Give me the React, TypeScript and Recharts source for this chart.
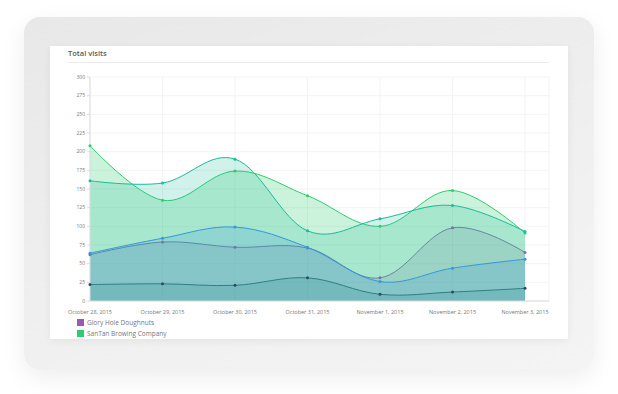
import React from 'react';
import { Area, AreaChart, CartesianGrid, Legend, XAxis, YAxis } from 'recharts';

const dates = ['October 28, 2015', 'October 29, 2015', 'October 30, 2015', 'October 31, 2015', 'November 1, 2015', 'November 2, 2015', 'November 3, 2015'];
const gloryHole = [62, 79, 72, 71, 31, 98, 65];
const navySeries = [22, 23, 21, 31, 9, 12, 17];
const sanTan = [208, 135, 174, 141, 100, 148, 91];
const tealSeries = [161, 158, 190, 94, 110, 128, 93];
const blueSeries = [64, 84, 99, 72, 26, 44, 56];
const yTicks = [0, 25, 50, 75, 100, 125, 150, 175, 200, 225, 250, 275, 300];

const data = dates.map((date, i) => ({
    date,
    glory: gloryHole[i],
    navy: navySeries[i],
    santan: sanTan[i],
    teal: tealSeries[i],
    blue: blueSeries[i],
}));

// cardinal-ish spline like chart.js tension 0.4
function splineCurve(context: any) {
    const k = 0.18;
    let x0: number, x1: number, x2: number, y0: number, y1: number, y2: number;
    let pt = 0;
    let line = NaN;
    const seg = (x: number, y: number) => {
        context.bezierCurveTo(x1 + k * (x2 - x0), y1 + k * (y2 - y0), x2 + k * (x1 - x), y2 + k * (y1 - y), x2, y2);
    };
    return {
        areaStart() {
            line = 0;
        },
        areaEnd() {
            line = NaN;
        },
        lineStart() {
            x0 = x1 = x2 = y0 = y1 = y2 = NaN;
            pt = 0;
        },
        lineEnd() {
            if (pt === 2) context.lineTo(x2, y2);
            else if (pt === 3) seg(x1, y1);
            if (line || (line !== 0 && pt === 1)) context.closePath();
            line = 1 - line;
        },
        point(x: number, y: number) {
            x = +x;
            y = +y;
            switch (pt) {
                case 0:
                    pt = 1;
                    line ? context.lineTo(x, y) : context.moveTo(x, y);
                    break;
                case 1:
                    pt = 2;
                    x1 = x;
                    y1 = y;
                    break;
                case 2:
                    pt = 3;
                    seg(x, y);
                    break;
                default:
                    seg(x, y);
                    break;
            }
            x0 = x1;
            x1 = x2;
            x2 = x;
            y0 = y1;
            y1 = y2;
            y2 = y;
        },
    };
}

const LegendContent = (props: any) => {
    const items = (props.payload || []).filter((p: any) => p.type !== 'none');
    return (
        <div>
            {items.map((p: any) => (
                <div key={p.value} style={{ display: 'flex', alignItems: 'center', height: 11, fontSize: 6.5, color: '#777' }}>
                    <span style={{ display: 'inline-block', width: 7, height: 7, background: p.color, marginRight: 3 }} />
                    {p.value}
                </div>
            ))}
        </div>
    );
};

const dot = (c: string) => ({ r: 1.5, fill: c, stroke: c, strokeWidth: 0, fillOpacity: 1 });

export default function App() {
    const font = "'Open Sans', 'DejaVu Sans', sans-serif";
    return (
        <div style={{ position: 'fixed', left: 0, top: 0, width: 618, height: 394, background: '#fff', fontFamily: font }}>
            <div
                style={{
                    position: 'absolute',
                    left: 24,
                    top: 17,
                    width: 570,
                    height: 353,
                    borderRadius: 16,
                    background: 'linear-gradient(160deg, #e8e8e8 0%, #f0f0f0 60%, #f4f4f4 100%)',
                    boxShadow: '0 8px 24px rgba(0,0,0,0.07)',
                }}
            />
            <div
                style={{
                    position: 'absolute',
                    left: 50,
                    top: 46,
                    width: 518,
                    height: 293,
                    background: '#fff',
                    overflow: 'hidden',
                    boxShadow: '0 2px 8px rgba(0,0,0,0.06)',
                }}
            >
                <div style={{ position: 'absolute', left: 18, top: 2, fontSize: 7.5, fontWeight: 600, color: '#5a5a5a' }}>Total visits</div>
                <div style={{ position: 'absolute', left: 18, top: 16, width: 481, height: 1, background: '#ececec' }} />
                <AreaChart width={518} height={293} data={data} margin={{ top: 31, right: 19, left: 0, bottom: 24 }}>
                    <CartesianGrid stroke="#f3f3f3" />
                    <XAxis
                        dataKey="date"
                        padding={{ left: 0, right: 24 }}
                        tick={{ fontSize: 5.5, fill: '#777' }}
                        tickLine={false}
                        axisLine={{ stroke: '#ddd' }}
                        tickMargin={3}
                        height={14}
                        interval={0}
                    />
                    <YAxis
                        domain={[0, 300]}
                        ticks={yTicks}
                        width={40}
                        tick={{ fontSize: 5, fill: '#777' }}
                        tickSize={3}
                        tickMargin={2}
                        tickLine={{ stroke: '#ddd' }}
                        axisLine={{ stroke: '#ddd' }}
                        interval={0}
                    />
                    <Area
                        dataKey="glory"
                        name="Glory Hole Doughnuts"
                        type={splineCurve as any}
                        stroke="#9b59b6"
                        strokeWidth={1}
                        fill="#9b59b6"
                        fillOpacity={0.2}
                        dot={dot('#7d72a8')}
                        activeDot={false}
                        legendType="square"
                        isAnimationActive={false}
                    />
                    <Area
                        dataKey="navy"
                        type={splineCurve as any}
                        stroke="#34495e"
                        strokeWidth={1}
                        fill="#34495e"
                        fillOpacity={0.2}
                        dot={dot('#34495e')}
                        activeDot={false}
                        legendType="none"
                        isAnimationActive={false}
                    />
                    <Area
                        dataKey="santan"
                        name="SanTan Browing Company"
                        type={splineCurve as any}
                        stroke="#2ecc71"
                        strokeWidth={1}
                        fill="#2ecc71"
                        fillOpacity={0.25}
                        dot={dot('#2ecc71')}
                        activeDot={false}
                        legendType="square"
                        isAnimationActive={false}
                    />
                    <Area
                        dataKey="teal"
                        type={splineCurve as any}
                        stroke="#1abc9c"
                        strokeWidth={1}
                        fill="#1abc9c"
                        fillOpacity={0.2}
                        dot={dot('#1abc9c')}
                        activeDot={false}
                        legendType="none"
                        isAnimationActive={false}
                    />
                    <Area
                        dataKey="blue"
                        type={splineCurve as any}
                        stroke="#3498db"
                        strokeWidth={1}
                        fill="#3498db"
                        fillOpacity={0.2}
                        dot={dot('#3498db')}
                        activeDot={false}
                        legendType="none"
                        isAnimationActive={false}
                    />
                    <Legend
                        layout="vertical"
                        align="center"
                        verticalAlign="middle"
                        wrapperStyle={{ left: 27, top: 271, width: 200 }}
                        content={<LegendContent />}
                    />
                </AreaChart>
            </div>
        </div>
    );
}
